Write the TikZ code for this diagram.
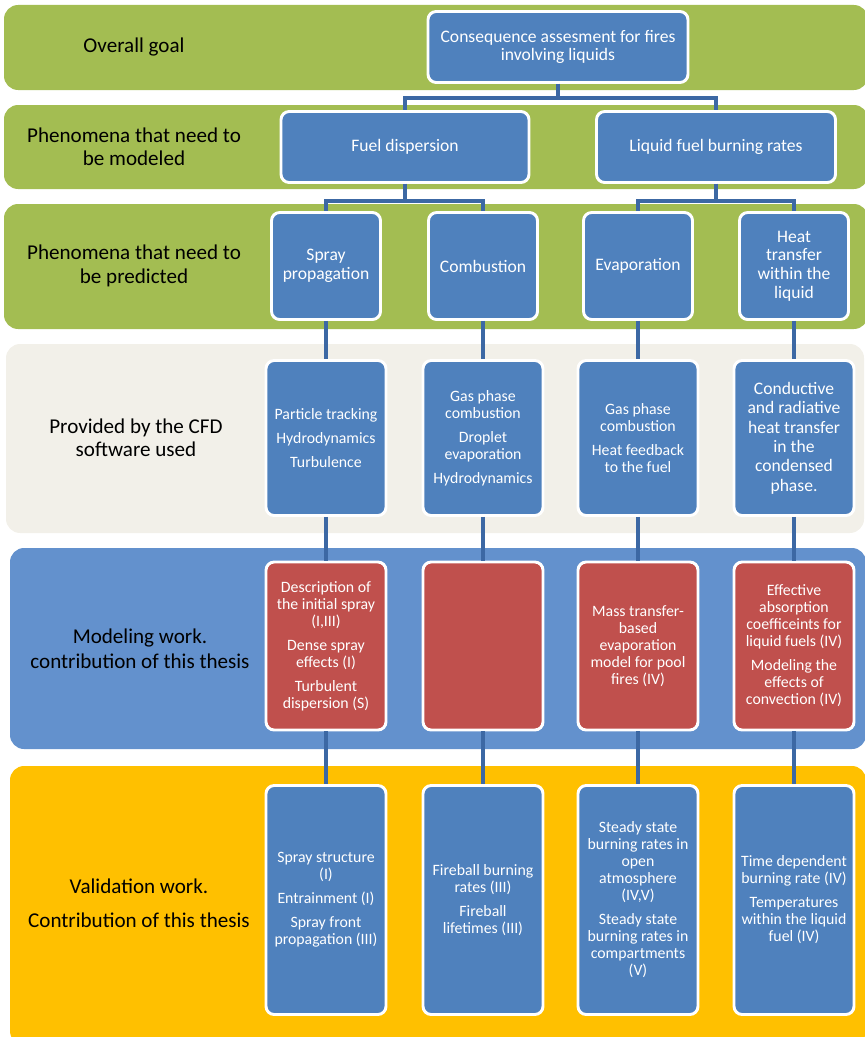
\documentclass[tikz,border=0pt]{standalone}
\usepackage{fontspec}
\setmainfont{Carlito}
\definecolor{bandgreen}{RGB}{163,189,82}
\definecolor{bandbeige}{RGB}{242,240,233}
\definecolor{bandblue}{RGB}{99,145,205}
\definecolor{bandgold}{RGB}{255,192,0}
\definecolor{boxblue}{RGB}{79,129,189}
\definecolor{boxred}{RGB}{192,80,77}
\definecolor{linkblue}{RGB}{60,104,164}
\begin{document}
\begin{tikzpicture}
  [x=0.03cm,y=-0.03cm,
  every node/.style={font=\fontsize{13.5}{14.5}\selectfont,align=center},
  big/.style={font=\fontsize{15}{16}\selectfont},
  lbl/.style={font=\fontsize{18}{20}\selectfont},
  band/.style={rounded corners=12pt},
  bx/.style={draw=white,line width=2.5pt,rounded corners=7pt,fill=boxblue,text=white,inner sep=2pt},
  pbox/.style={bx,big,minimum width=109*\px,minimum height=107*\px},
  cbox/.style={bx,minimum width=120*\px,minimum height=155*\px},
  wbox/.style={bx,fill=boxred,minimum width=120*\px,minimum height=168*\px},
  vbox/.style={bx,minimum width=120*\px,minimum height=229*\px},
  conn/.style={draw=linkblue,line width=3pt}]
  \def\px{0.03cm}
  \def\g{6pt}
  \useasboundingbox (0,0) rectangle (864,1037);
  \fill[bandgreen,band] (4,5) rectangle (868,90);
  \fill[bandgreen,band] (4,105) rectangle (868,189);
  \fill[bandgreen,band] (4,204) rectangle (868,329);
  \fill[bandbeige,band] (6,344) rectangle (864,533);
  \fill[bandblue,band] (10,548) rectangle (866,749);
  \fill[bandgold,band] (10,766) rectangle (866,1045);

  \node[lbl] (goallbl) at (134,47) {Overall goal};
  \node[lbl] (modellbl) at (134,147) {Phenomena that need to\\be modeled};
  \node[lbl] (predlbl) at (134,266) {Phenomena that need to\\be predicted};
  \node[lbl] (cfdlbl) at (136,438) {Provided by the CFD\\software used};
  \node[lbl] (worklbl) at (140,649) {Modeling work.\\[1pt]contribution of this thesis};
  \node[lbl] (vallbl) at (139,903) {Validation work.\\[9pt]Contribution of this thesis};

  \node[bx,big,minimum width=260*\px,minimum height=71*\px] (goal) at (558,47) {Consequence assesment for fires\\involving liquids};
  \node[bx,big,minimum width=248*\px,minimum height=71*\px] (disp) at (405,147) {Fuel dispersion};
  \node[bx,big,minimum width=239*\px,minimum height=71*\px] (burn) at (716,147) {Liquid fuel burning rates};

  \node[pbox] (spray) at (326,266) {Spray\\propagation};
  \node[pbox] (comb) at (483,266) {Combustion};
  \node[pbox] (evap) at (638,266) {Evaporation};
  \node[pbox] (heat) at (794,266) {Heat\\transfer\\within the\\liquid};

  \node[cbox] (cfdspray) at (326,438) {Particle tracking\\[\g]Hydrodynamics\\[\g]Turbulence};
  \node[cbox] (cfdcomb) at (483,438) {Gas phase\\combustion\\[\g]Droplet\\evaporation\\[\g]Hydrodynamics};
  \node[cbox] (cfdevap) at (638,438) {Gas phase\\combustion\\[\g]Heat feedback\\to the fuel};
  \node[cbox,font=\fontsize{15}{16.5}\selectfont] (cfdheat) at (794,438) {Conductive\\and radiative\\heat transfer\\in the\\condensed\\phase.};

  \node[wbox] (modspray) at (326,646) {Description of\\the initial spray\\(I,III)\\[\g]Dense spray\\effects (I)\\[\g]Turbulent\\dispersion (S)};
  \node[wbox] (modcomb) at (483,646) {};
  \node[wbox] (modevap) at (638,646) {Mass transfer-\\based\\evaporation\\model for pool\\fires (IV)};
  \node[wbox] (modheat) at (794,646) {Effective\\absorption\\coefficeints for\\liquid fuels (IV)\\[\g]Modeling the\\effects of\\convection (IV)};

  \node[vbox] (valspray) at (326,900) {Spray structure\\(I)\\[\g]Entrainment (I)\\[\g]Spray front\\propagation (III)};
  \node[vbox] (valcomb) at (483,900) {Fireball burning\\rates (III)\\[\g]Fireball\\lifetimes (III)};
  \node[vbox] (valevap) at (638,900) {Steady state\\burning rates in\\open\\atmosphere\\(IV,V)\\[\g]Steady state\\burning rates in\\compartments\\(V)};
  \node[vbox] (valheat) at (794,900) {Time dependent\\burning rate (IV)\\[\g]Temperatures\\within the liquid\\fuel (IV)};

  \draw[conn] (goal.south) -- ++(0,14) -| (disp.north);
  \draw[conn] (goal.south) -- ++(0,14) -| (burn.north);
  \draw[conn] (disp.south) -- ++(0,17) -| (spray.north);
  \draw[conn] (disp.south) -- ++(0,17) -| (comb.north);
  \draw[conn] (burn.south) -- ++(0,17) -| (evap.north);
  \draw[conn] (burn.south) -- ++(0,17) -| (heat.north);

  \draw[conn] (spray.south) -- (cfdspray.north);
  \draw[conn] (comb.south) -- (cfdcomb.north);
  \draw[conn] (evap.south) -- (cfdevap.north);
  \draw[conn] (heat.south) -- (cfdheat.north);
  \draw[conn] (cfdspray.south) -- (modspray.north);
  \draw[conn] (cfdcomb.south) -- (modcomb.north);
  \draw[conn] (cfdevap.south) -- (modevap.north);
  \draw[conn] (cfdheat.south) -- (modheat.north);
  \draw[conn] (modspray.south) -- (valspray.north);
  \draw[conn] (modcomb.south) -- (valcomb.north);
  \draw[conn] (modevap.south) -- (valevap.north);
  \draw[conn] (modheat.south) -- (valheat.north);
\end{tikzpicture}
\end{document}
